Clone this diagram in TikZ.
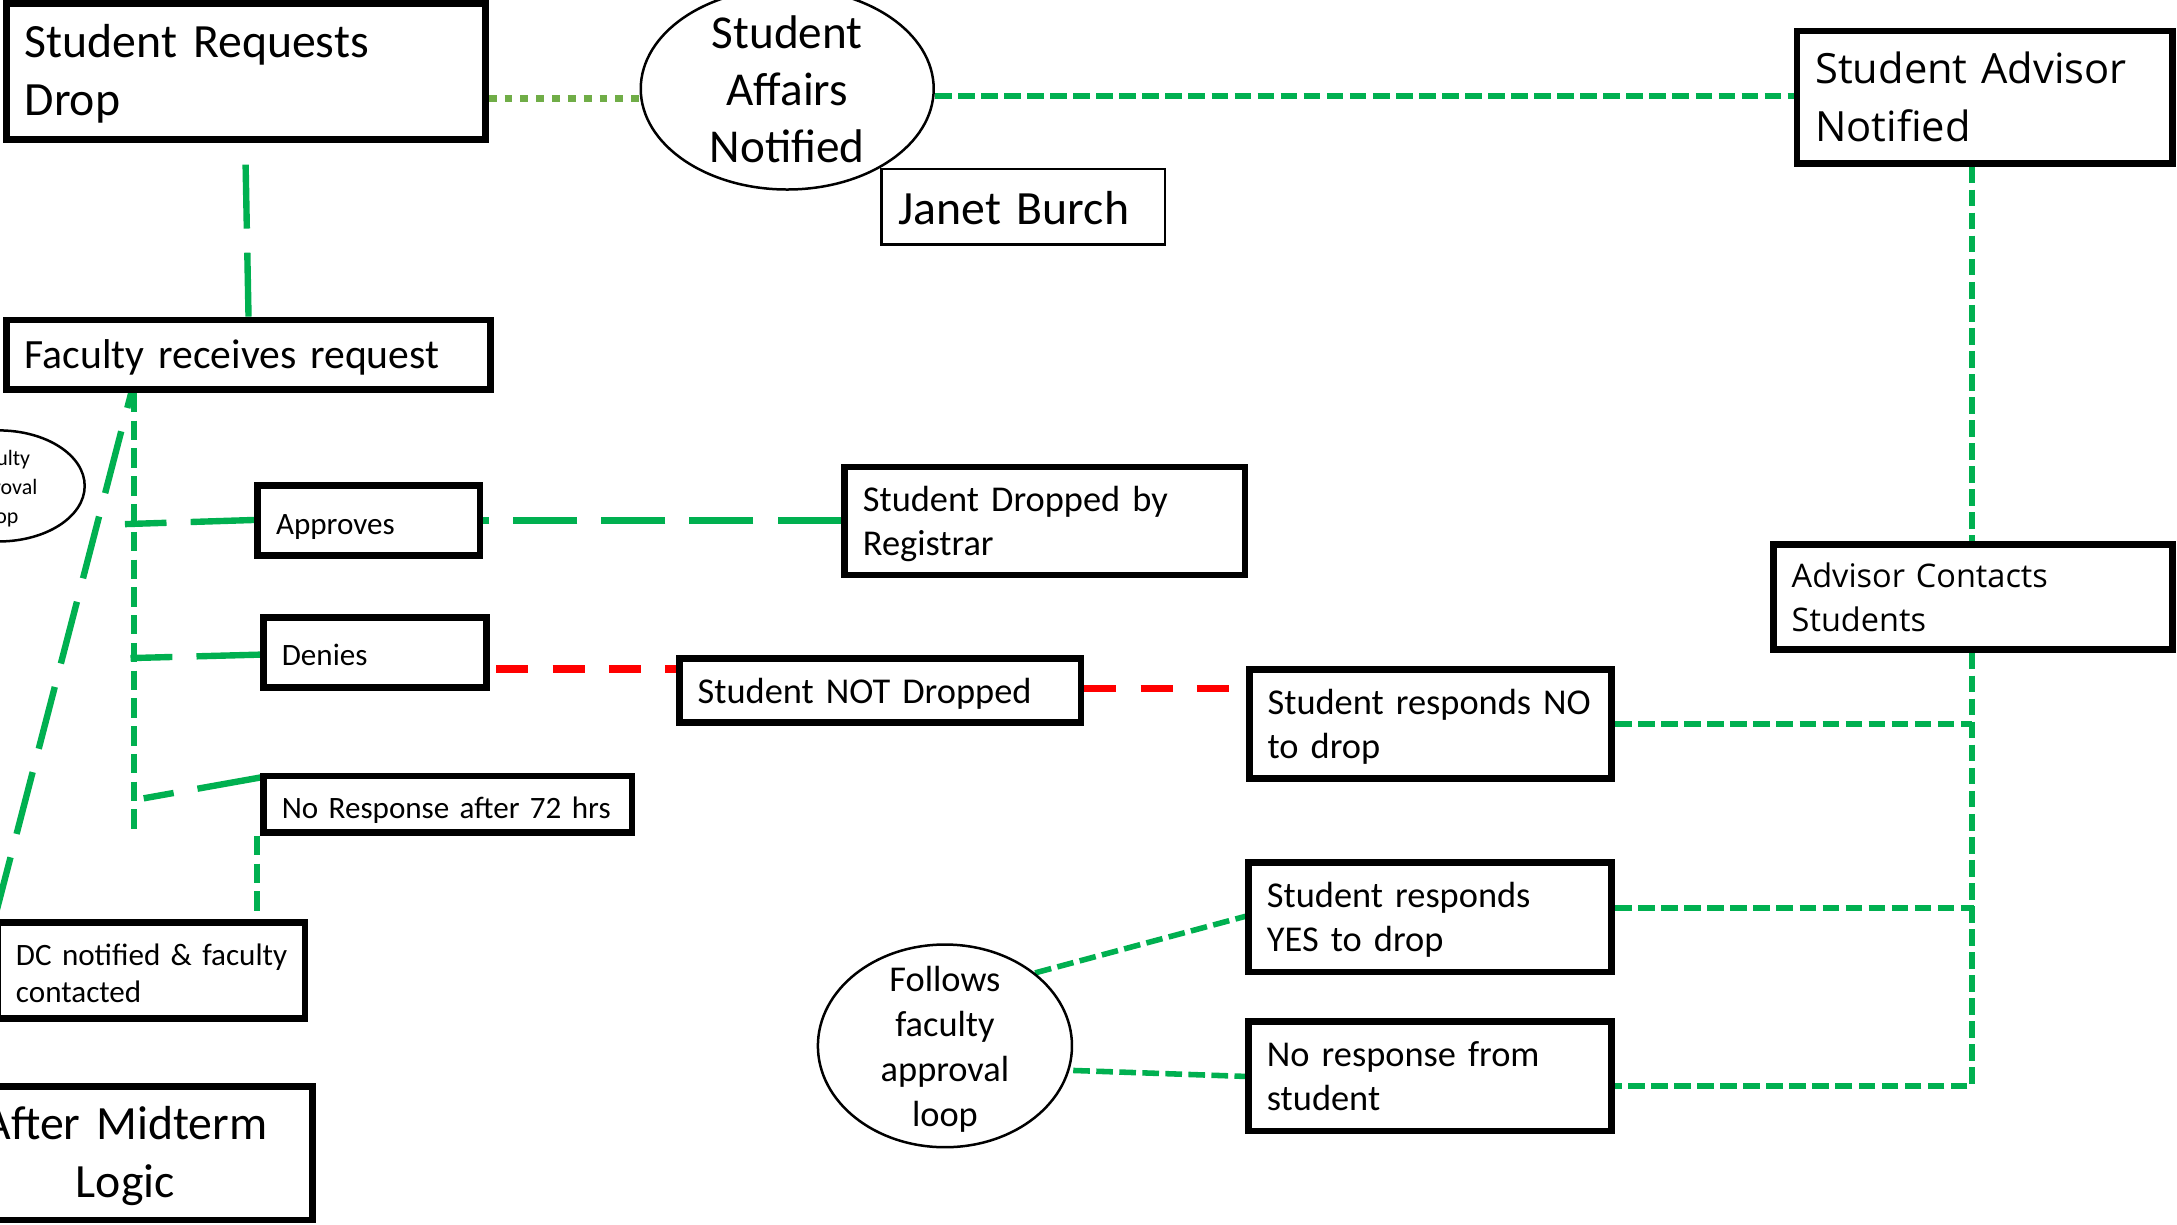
\documentclass[tikz,border=0pt]{standalone}
\usepackage{fontspec}
\setmainfont{Carlito}
\newfontfamily\segoefont{Open Sans}
\usetikzlibrary{shapes.geometric,calc}
\pgfdeclarelayer{background}
\pgfsetlayers{background,main}
\definecolor{offgreen}{HTML}{00B050}
\definecolor{litegreen}{HTML}{70AD47}
\definecolor{offred}{HTML}{FF0000}
\newlength\bxlw \setlength\bxlw{2.4pt}
\newlength\bxpad \setlength\bxpad{7.75pt}
\newlength\bxraise \setlength\bxraise{1.3pt}
\newcommand\mkbox[7][]{%
  \pgfmathsetlengthmacro\bxW{(#5-#3)*0.5pt-\bxlw}%
  \pgfmathsetlengthmacro\bxH{(#6-#4)*0.5pt-\bxlw}%
  \pgfmathsetlengthmacro\bxIn{\bxpad-0.5*\bxlw}%
  \pgfmathsetlengthmacro\bxT{\bxW-2*\bxIn}%
  \node[boxst,minimum width=\bxW,minimum height=\bxH,inner xsep=\bxIn,text width=\bxT,#1] (#2) at ({(#3+#5)/2},{(#4+#6)/2}) {\raisebox{-\bxraise}[\height][\depth]{\begin{tabular}{@{}l@{}}#7\end{tabular}}};%
}
\begin{document}
\begin{tikzpicture}[x=0.5pt,y=-0.5pt,
  boxst/.style={draw=black,line width=\bxlw,fill=white,inner ysep=0pt,align=left},
  ell/.style={ellipse,draw=black,line width=0.9pt,fill=white,inner sep=0pt},
  lbl/.style={inner sep=0pt,align=center},
  fbig/.style={font=\fontsize{17.2}{21}\selectfont},
  fbigB/.style={font=\fontsize{17}{20.5}\selectfont},
  ffac/.style={font=\fontsize{15}{19}\selectfont},
  fmed/.style={font=\fontsize{13.1}{15.8}\selectfont},
  fmedQ/.style={font=\fontsize{13.1}{16.2}\selectfont},
  fsmall/.style={font=\fontsize{11.2}{13.2}\selectfont},
  ftiny/.style={font=\fontsize{7.9}{10.4}\selectfont},
  fsegA/.style={font=\segoefont\fontsize{15}{20.8}\selectfont},
  fsegB/.style={font=\segoefont\fontsize{11.7}{16}\selectfont},
  sdot/.style={draw=litegreen,line width=2.75pt,dash pattern=on 2.85pt off 2.85pt},
  ldash/.style={draw=offgreen,line width=2.3pt,dash pattern=on 23pt off 8.7pt},
  gdash/.style={draw=offgreen,line width=2.3pt,dash pattern=on 7pt off 3pt},
  sdash/.style={draw=offgreen,line width=2pt,dash pattern=on 6pt off 2.3pt},
  rdash/.style={draw=offred,line width=2.75pt,dash pattern=on 11.5pt off 8.75pt}]
\useasboundingbox (0,0) rectangle (1568,882);
\clip (0,0) rectangle (1568,882);

% boxes
\mkbox[fbig]{A}{2.3}{0}{352}{103}{Student Requests\\Drop}
\mkbox[ffac]{E}{2.3}{228}{355.5}{283}{Faculty receives request}
\mkbox[fsegA]{D}{1292}{20}{1567}{120}{Student Advisor\\Notified}
\mkbox[fsegB]{R}{1275}{390}{1567}{470}{Advisor Contacts\\Students}
\begin{scope}
\setlength\bxraise{2.3pt}
\mkbox[fsmall]{G}{183.3}{347.5}{348.2}{402.6}{Approves}
\mkbox[fsmall]{H}{187.5}{442.2}{353}{497.4}{Denies}
\mkbox[fsmall]{I}{187.5}{556.6}{457.5}{602}{No Response after 72 hrs}
\mkbox[fsmall]{J}{-4}{662}{222}{736}{DC notified \& faculty\\contacted}
\end{scope}
\mkbox[fbig,align=center]{K}{-47}{780}{227.6}{881}{\begin{tabular}{@{}c@{}}After Midterm\\Logic\end{tabular}}
\mkbox[fmed]{L}{606}{334}{899}{416.5}{Student Dropped by\\Registrar}
\mkbox[fmed]{M}{487}{472}{781}{523}{Student NOT Dropped}
\mkbox[fmed]{N}{897.5}{480}{1163.3}{563}{Student responds NO\\to drop}
\mkbox[fmed]{O}{897}{619}{1163.3}{702.6}{Student responds\\YES to drop}
\mkbox[fmed]{P}{897}{733.3}{1163.3}{817}{No response from\\student}
\begin{scope}
\setlength\bxlw{0.9pt}\setlength\bxpad{6.5pt}\setlength\bxraise{2.2pt}
\mkbox[fbig]{C}{634}{121}{840}{177}{Janet Burch}
\end{scope}

% ellipses
\node[ell,minimum width=105.5pt,minimum height=72.5pt] (B) at (567,64) {};
\node[lbl,fbigB] (Btxt) at (567,64.5) {Student\\Affairs\\Notified};
\node[ell,minimum width=91.5pt,minimum height=73pt] (Q) at (680.6,753.3) {};
\node[lbl,fmedQ] (Qtxt) at (680.6,756) {Follows\\faculty\\approval\\loop};
\node[ell,minimum width=62pt,minimum height=40pt] (F) at (-1,350) {};
\node[lbl,ftiny] (Ftxt) at (-1,352) {Faculty\\approval\\loop};

\coordinate (tA) at (90,377.5);
\coordinate (tD) at (94,474);
\coordinate (tN) at (103.5,575);
\coordinate (tEnd) at (96.6,600);
\coordinate (jN) at (1420.4,521.5);
\coordinate (jO) at (1422,654);

\begin{pgfonlayer}{background}
\fill[white] (0,0) rectangle (1568,882);
\draw[sdot] (A.east |- 0,71) -- (B.west |- 0,71);
\draw[sdash] (B.east |- 0,69) -- (D.west |- 0,69);
\draw[ldash] (E.north -| 179,0) -- (A.south -| 176.6,0);
\draw[gdash] (E.south -| 96.6,0) -- (tEnd);
\draw[ldash] (G.west |- 0,374.5) -- (tA);
\draw[ldash] (H.west |- 0,471.5) -- (tD);
\draw[ldash] (I.west |- 0,560) -- (tN);
\draw[ldash] (J.north west) -- (E.south -| 94.5,0);
\draw[gdash] (I.south -| 185,0) -- (J.north -| 185,0);
\draw[ldash] (L.west |- 0,375) -- (G.east |- 0,375);
\draw[rdash,dash phase=17.95pt] (H.east |- 0,482) -- (M.west |- 0,482);
\draw[rdash] (M.east |- 0,496) -- (N.west |- 0,496);
\draw[sdash] (D.south -| 1420.4,0) -- (R.north -| 1420.4,0);
\draw[sdash] (R.south -| 1420.4,0) |- (P.east |- 0,782);
\draw[sdash] (N.east |- 0,521.5) -- (jN);
\draw[sdash] (O.east |- 0,654) -- (jO);
\draw[sdash] (Q.39) -- (O.west |- 0,660);
\draw[sdash] (Q.east |- 0,771) -- (P.west |- 0,775.3);
\end{pgfonlayer}
\end{tikzpicture}
\end{document}
